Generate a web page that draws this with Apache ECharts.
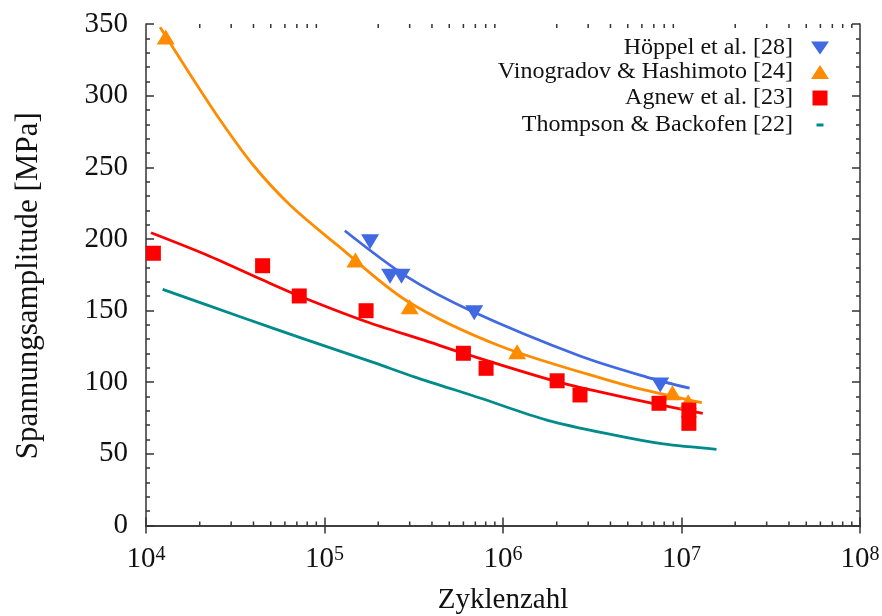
<!DOCTYPE html>
<html lang="de">
<head>
    <meta charset="UTF-8">
    <title>Wöhlerlinien</title>
    <script src="https://cdn.jsdelivr.net/npm/echarts@6.0.0/dist/echarts.min.js"></script>
    <style>
        html, body { margin: 0; padding: 0; background: #fff; }
        #chart { width: 882px; height: 616px; }
    </style>
</head>
<body>
    <div id="chart"></div>
    <script>
        // Messpunkte (Zyklenzahl, Spannungsamplitude in MPa)
        const hoeppelN = [1.8e5, 2.33e5, 2.7e5, 6.9e5, 7.6e6];
        const hoeppelS = [198, 174, 174, 148.5, 98];
        const vinogradovN = [1.29e4, 1.49e5, 3.0e5, 1.2e6, 8.9e6, 1.09e7];
        const vinogradovS = [341, 185.3, 152.7, 121.3, 92.7, 86.4];
        const agnewN = [1.1e4, 4.5e4, 7.22e4, 1.71e5, 6.0e5, 8.04e5, 2.01e6, 2.7e6, 7.48e6, 1.1e7, 1.1e7];
        const agnewS = [190, 181.3, 160.2, 149.9, 120.2, 109.7, 101, 91.1, 85.3, 80.6, 71.3];

        // Ausgleichskurven
        const hoeppelFitN = [1.3e5, 2.89e5, 6.79e5, 2.7e6, 6.38e6, 1.11e7];
        const hoeppelFitS = [205.7, 173.7, 149.2, 118.3, 103.6, 95.8];
        const vinogradovFitN = [1.2e4, 1.76e4, 2.6e4, 3.98e4, 6.41e4, 1.175e5, 2.9e5, 9.62e5, 4.13e6, 7.29e6, 1.3e7];
        const vinogradovFitS = [347.7, 315.1, 283.0, 251.6, 223.7, 195.8, 156.7, 125.3, 100.4, 92.5, 85.7];
        const agnewFitN = [1.067e4, 2.19e4, 4.51e4, 7.23e4, 1.72e5, 3.57e5, 6.0e5, 2.0e6, 4.15e6, 7.59e6, 1.315e7];
        const agnewFitS = [204.3, 188.8, 171.3, 160.2, 142.2, 129.5, 120.2, 100.4, 91.1, 84.1, 78.3];
        const thompsonN = [1.24e4, 3.37e4, 7.95e4, 1.876e5, 3.21e5, 7.43e5, 1.76e6, 4.15e6, 7.9e6, 1.57e7];
        const thompsonS = [164.8, 145.7, 129.5, 113.8, 103.6, 89.0, 73.6, 63.2, 56.9, 53.2];

        const legendNames = ['Höppel et al. [28]', 'Vinogradov & Hashimoto [24]', 'Agnew et al. [23]', 'Thompson & Backofen [22]'];

        const FONT = "'Liberation Serif', 'Times New Roman', serif";
        const BLUE = '#4169e1', ORANGE = '#ff8c00', RED = '#ff0000', TEAL = '#008b8b';
        const AXIS = '#333';

        function pairs(xs, ys) {
            return xs.map((x, i) => [x, ys[i]]);
        }

        // Legenden einzeln platzieren (Symbolmitte bei x = 820)
        const legendRows = [
            { name: legendNames[0], y: 48, w: 18, h: 13, icon: 'path://M0,0L18,0L9,13Z' },
            { name: legendNames[1], y: 72, w: 18, h: 14 },
            { name: legendNames[2], y: 98, w: 15, h: 15 },
            { name: legendNames[3], y: 125, w: 7, h: 3, icon: 'rect' }
        ];
        const legends = legendRows.map(r => {
            const item = { name: r.name };
            if (r.icon) item.icon = r.icon;
            return {
                show: true,
                orient: 'vertical',
                align: 'right',
                right: 62 - r.w / 2,
                top: r.y - 12,
                padding: 0,
                itemWidth: r.w,
                itemHeight: r.h,
                selectedMode: false,
                data: [item],
                textStyle: {
                    fontFamily: FONT, fontSize: 24, color: '#111',
                    lineHeight: 24, padding: [0, 22 - r.w / 2, 0, 0]
                }
            };
        });

        const chart = echarts.init(document.getElementById('chart'));

        const fitLine = (name, data, color) => ({
            name: name, type: 'line', data: data,
            smooth: 0.3, showSymbol: false, silent: true, z: 2,
            itemStyle: { color: color },
            lineStyle: { color: color, width: 2.8 }
        });

        const option = {
            backgroundColor: '#fff',
            animation: false,
            grid: { left: 146, right: 22, top: 24, bottom: 90.5, outerBoundsMode: 'none' },
            legend: legends,
            xAxis: [{
                type: 'log',
                logBase: 10,
                min: 1e4,
                max: 1e8,
                name: 'Zyklenzahl',
                nameLocation: 'middle',
                nameGap: 60,
                nameTextStyle: { fontFamily: FONT, fontSize: 29, color: '#111' },
                axisLine: { lineStyle: { color: AXIS, width: 1.5 } },
                axisTick: { inside: true, length: 8, lineStyle: { color: AXIS, width: 1.5 } },
                splitLine: { show: false },
                axisLabel: {
                    margin: 19,
                    formatter: v => '{a|10}{b|' + Math.round(Math.log10(v)) + '}',
                    rich: {
                        a: { fontFamily: FONT, fontSize: 29, color: '#111', lineHeight: 30 },
                        b: { fontFamily: FONT, fontSize: 20, color: '#111', verticalAlign: 'top', lineHeight: 30 }
                    }
                }
            }, {
                type: 'log',
                logBase: 10,
                min: 1e4,
                max: 1e8,
                position: 'top',
                axisLine: { lineStyle: { color: AXIS, width: 1.5 } },
                axisTick: { inside: true, length: 8, lineStyle: { color: AXIS, width: 1.5 } },
                axisLabel: { show: false },
                splitLine: { show: false }
            }],
            yAxis: [{
                type: 'value',
                min: 0,
                max: 350,
                interval: 50,
                name: 'Spannungsamplitude [MPa]',
                nameLocation: 'middle',
                nameGap: 102,
                nameTextStyle: { fontFamily: FONT, fontSize: 31, color: '#111', padding: [0, 22, 0, 0] },
                axisLine: { show: true, lineStyle: { color: AXIS, width: 1.5 } },
                axisTick: { inside: true, length: 8, lineStyle: { color: AXIS, width: 1.5 } },
                minorTick: { show: true, splitNumber: 5, length: 4, lineStyle: { color: AXIS, width: 1.5 } },
                splitLine: { show: false },
                axisLabel: { margin: 18, fontFamily: FONT, fontSize: 29, color: '#111' }
            }, {
                type: 'value',
                min: 0,
                max: 350,
                interval: 50,
                position: 'right',
                axisLine: { show: true, lineStyle: { color: AXIS, width: 1.5 } },
                axisTick: { inside: true, length: 8, lineStyle: { color: AXIS, width: 1.5 } },
                minorTick: { show: true, splitNumber: 5, length: 4, lineStyle: { color: AXIS, width: 1.5 } },
                axisLabel: { show: false },
                splitLine: { show: false }
            }],
            series: [
                fitLine('fitHoeppel', pairs(hoeppelFitN, hoeppelFitS), BLUE),
                fitLine('fitVinogradov', pairs(vinogradovFitN, vinogradovFitS), ORANGE),
                fitLine('fitAgnew', pairs(agnewFitN, agnewFitS), RED),
                fitLine(legendNames[3], pairs(thompsonN, thompsonS), TEAL),
                {
                    name: legendNames[0], type: 'scatter', data: pairs(hoeppelN, hoeppelS),
                    symbol: 'triangle', symbolRotate: 180, symbolSize: [18, 15], z: 3,
                    itemStyle: { color: BLUE, opacity: 1 }
                },
                {
                    name: legendNames[1], type: 'scatter', data: pairs(vinogradovN, vinogradovS),
                    symbol: 'triangle', symbolSize: [18, 15], z: 3,
                    itemStyle: { color: ORANGE, opacity: 1 }
                },
                {
                    name: legendNames[2], type: 'scatter', data: pairs(agnewN, agnewS),
                    symbol: 'rect', symbolSize: 15, z: 4,
                    itemStyle: { color: RED, opacity: 1 }
                }
            ]
        };

        chart.setOption(option);

        // Nebenstriche der logarithmischen x-Achse (2..9 je Dekade)
        const minorValues = [];
        for (let e = 4; e < 8; e++) {
            for (let k = 2; k <= 9; k++) minorValues.push(k * Math.pow(10, e));
        }
        const yBottom = chart.convertToPixel({ yAxisIndex: 0 }, 0);
        const yTop = chart.convertToPixel({ yAxisIndex: 0 }, 350);
        const ticks = [];
        minorValues.forEach(v => {
            const x = chart.convertToPixel({ xAxisIndex: 0 }, v);
            ticks.push({
                type: 'line', silent: true, z: 10,
                shape: { x1: x, y1: yBottom, x2: x, y2: yBottom - 4 },
                style: { stroke: AXIS, lineWidth: 1.5 }
            });
            ticks.push({
                type: 'line', silent: true, z: 10,
                shape: { x1: x, y1: yTop, x2: x, y2: yTop + 4 },
                style: { stroke: AXIS, lineWidth: 1.5 }
            });
        });
        chart.setOption({ graphic: ticks });
    </script>
</body>
</html>
